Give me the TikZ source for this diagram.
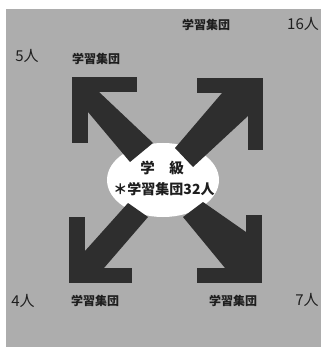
\documentclass[tikz,border=0pt]{standalone}
\usepackage{fontspec}
\setmainfont{Noto Sans CJK JP}
\begin{document}
\begin{tikzpicture}[x=1pt,y=-1pt,
  arrowfill/.style={fill=arrowgray,draw=none},
  lbl/.style={text=textgray,inner sep=0pt,font=\fontsize{12}{12}\selectfont\bfseries},
  big/.style={text=textgray,inner sep=0pt,font=\fontsize{15}{15}\selectfont}]
\definecolor{bggray}{HTML}{ADADAD}
\definecolor{arrowgray}{HTML}{2E2E2E}
\definecolor{textgray}{HTML}{1E1E1E}
\useasboundingbox (0,0) rectangle (321,347);
\fill[white] (0,0) rectangle (321,347);
\fill[bggray] (6,9) rectangle (321,347);
% centre blob
\fill[white] (163,180) ellipse [x radius=56, y radius=37];
% top-left arrow
\fill[arrowfill] (72,77) rectangle (137,92);
\fill[arrowfill] (72,77) rectangle (88,143);
\fill[arrowfill] (99,92) -- (153,143) -- (130,162) -- (88,112) -- (88,92) -- cycle;
% top-right arrow
\fill[arrowfill] (197,78) rectangle (263,93);
\fill[arrowfill] (248,78) rectangle (263,150);
\fill[arrowfill] (222,93) -- (175,148) -- (193,167) -- (248,116) -- (248,93) -- cycle;
% bottom-left arrow
\fill[arrowfill] (69,217) rectangle (85,283);
\fill[arrowfill] (69,268) rectangle (132,283);
\fill[arrowfill] (128,203) -- (148,217) -- (104,268) -- (85,268) -- (85,251) -- cycle;
% bottom-right arrow
\fill[arrowfill] (246,215) rectangle (262,283);
\fill[arrowfill] (197,268) rectangle (262,283);
\fill[arrowfill] (203,202) -- (183,217) -- (225,268) -- (246,268) -- (246,232) -- cycle;
% centre texts
\node[big,font=\fontsize{14.5}{14.5}\selectfont\bfseries] (cls) at (162,168) {学　級};
\node[big,font=\fontsize{14}{14}\selectfont\bfseries] (grp) at (164,189) {＊学習集団32人};
% labels
\node[big] (n5) at (27,56) {5人};
\node[lbl] (g1) at (96,59) {学習集団};
\node[lbl] (g2) at (206,25) {学習集団};
\node[big] (n16) at (303,24) {16人};
\node[big] (n4) at (23,301) {4人};
\node[lbl] (g3) at (95,301) {学習集団};
\node[lbl] (g4) at (233,301) {学習集団};
\node[big] (n7) at (307,300) {7人};
\end{tikzpicture}
\end{document}
